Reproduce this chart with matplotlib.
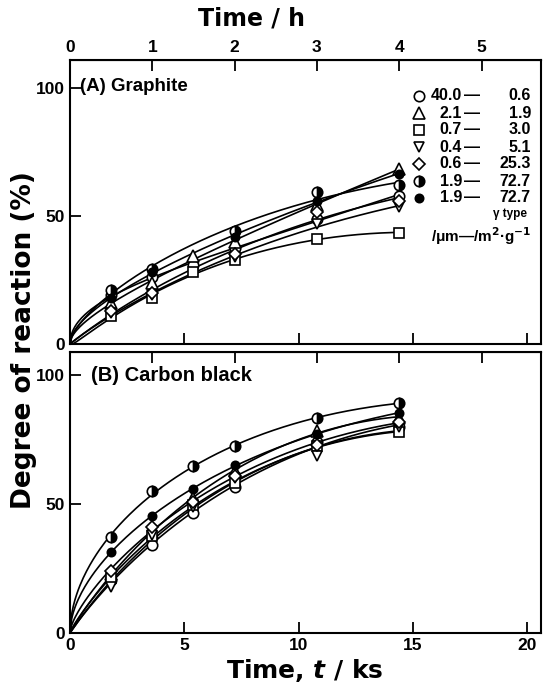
import numpy as np
import matplotlib
matplotlib.use('Agg')
import matplotlib.pyplot as plt


# Sampling times (h) and the same in ks
time_h = [0.5, 1.0, 1.5, 2.0, 3.0, 4.0]
time_ks = [t * 3.6 for t in time_h]

series_names = ['circle', 'triangle', 'square', 'invtri', 'diamond', 'half', 'filled']
size_a = ['40.0', '2.1', '0.7', '0.4', '0.6', '1.9', '1.9']
size_b = ['0.6', '1.9', '3.0', '5.1', '25.3', '72.7', '72.7']

# (A) Graphite, degree of reaction (%)
graphite = {
    'circle':   [19, 26, 31, 37.5, 49, 58],
    'triangle': [16, 24, 34.5, 40, 54.5, 68.5],
    'square':   [11, 18, 28, 33, 41, 43.5],
    'invtri':   [12, 19, np.nan, 34, 47, 53.5],
    'diamond':  [13, 20, np.nan, 35, 51.5, 56],
    'half':     [21, 29.5, np.nan, 44, 59.5, 62],
    'filled':   [18, 28, np.nan, 42, 56, 66.5],
}

# (B) Carbon black, degree of reaction (%)
carbon = {
    'circle':   [20.5, 34, 46.7, 56.5, 74, 80],
    'triangle': [23, 39, 52.5, 62.7, 78.5, 83.5],
    'square':   [21.5, 37.5, 49.5, 58, 72.5, 78],
    'invtri':   [18, 38, 49, 60, 68.5, 80],
    'diamond':  [24, 41, 51, 61, 73, 82],
    'half':     [37.4, 55, 64.6, 72.4, 83.3, 89.3],
    'filled':   [31.5, 45.5, 55.8, 65.3, 77, 85.5],
}

styles = {
    'circle':   dict(marker='o', ms=7.5, mfc='white'),
    'triangle': dict(marker='^', ms=8, mfc='white'),
    'square':   dict(marker='s', ms=7, mfc='white'),
    'invtri':   dict(marker='v', ms=7, mfc='white'),
    'diamond':  dict(marker='D', ms=6, mfc='white'),
    'half':     dict(marker='o', ms=7.5, mfc='black', fillstyle='right', markerfacecoloralt='white'),
    'filled':   dict(marker='o', ms=6, mfc='black'),
}

plt.rcParams['font.family'] = ['Liberation Sans', 'DejaVu Sans']
plt.rcParams['font.weight'] = 'bold'
plt.rcParams['mathtext.fontset'] = 'custom'
plt.rcParams['mathtext.it'] = 'DejaVu Sans:italic:bold'
plt.rcParams['mathtext.rm'] = 'DejaVu Sans:bold'


# smooth curve through origin: y = a*sqrt(t) + b*t + c*t^1.5
def smooth_curve(x, y):
    x = np.asarray(x, float)
    y = np.asarray(y, float)
    ok = ~np.isnan(y)
    x, y = x[ok], y[ok]
    A = np.column_stack([np.sqrt(x), x, x ** 1.5])
    coef = np.linalg.lstsq(A, y, rcond=None)[0]
    xs = np.linspace(0, x.max(), 200)
    return xs, np.column_stack([np.sqrt(xs), xs, xs ** 1.5]) @ coef


def style_axis(ax, ymax, label_bottom):
    ax.set_xlim(0, 20.6)
    ax.set_ylim(0, ymax)
    ax.set_xticks([0, 5, 10, 15, 20])
    ax.set_yticks([0, 50, 100])
    ax.tick_params(axis='both', direction='in', length=8, width=1.3,
                   labelsize=12.5, top=False, right=False)
    ax.tick_params(axis='x', labelbottom=label_bottom)
    for s in ax.spines.values():
        s.set_linewidth(1.5)
    top = ax.secondary_xaxis('top', functions=(lambda x: x / 3.6, lambda h: h * 3.6))
    top.set_xticks([0, 1, 2, 3, 4, 5])
    top.tick_params(direction='in', length=8, width=1.3, labelsize=12.5)
    return top


fig = plt.figure(figsize=(5.48, 6.84), dpi=100)
ax_a = fig.add_axes([70 / 548, 1 - 344 / 684, 471 / 548, 284 / 684])
ax_b = fig.add_axes([70 / 548, 1 - 633 / 684, 471 / 548, 281 / 684])

for ax, data in [(ax_a, graphite), (ax_b, carbon)]:
    for name in series_names:
        xs, ys = smooth_curve(time_ks, data[name])
        ax.plot(xs, ys, color='black', lw=1.2, zorder=2)
    for name in series_names:
        ax.plot(time_ks, data[name], ls='none', mec='black', mew=1.2,
                color='black', zorder=3, **styles[name])

top_a = style_axis(ax_a, 111, False)
top_b = style_axis(ax_b, 109, True)
top_b.tick_params(labeltop=False)

ax_a.text(0.022, 0.905, '(A) Graphite', transform=ax_a.transAxes, fontsize=13.5,
          fontweight='bold', va='center')
ax_b.text(0.045, 0.915, '(B) Carbon black', transform=ax_b.transAxes, fontsize=14.5,
          fontweight='bold', va='center')

# hand-made legend in panel A
row_y = [96, 113, 130, 147, 164, 181, 198]
for name, sa, sb, py in zip(series_names, size_a, size_b, row_y):
    yf = (344 - py) / 284
    ax_a.plot([(419 - 70) / 471], [yf], transform=ax_a.transAxes, ls='none',
              mec='black', mew=1.2, color='black', clip_on=False, **styles[name])
    ax_a.text((462 - 70) / 471, yf, sa, transform=ax_a.transAxes, ha='right',
              va='center', fontsize=11.5)
    ax_a.text((464 - 70) / 471, yf, '\u2014', transform=ax_a.transAxes, ha='left',
              va='center', fontsize=11.5)
    ax_a.text((531 - 70) / 471, yf, sb, transform=ax_a.transAxes, ha='right',
              va='center', fontsize=11.5)
ax_a.text((527 - 70) / 471, (344 - 214) / 284, '\u03b3 type', transform=ax_a.transAxes,
          ha='right', va='center', fontsize=8.5)
ax_a.text((531 - 70) / 471, (344 - 236) / 284, '/\u03bcm\u2014/m$^{2}$\u00b7g$^{-1}$',
          transform=ax_a.transAxes, ha='right', va='center', fontsize=11)

fig.text(252 / 548, 1 - 18 / 684, 'Time / h', ha='center', va='center', fontsize=17,
         family='DejaVu Sans')
fig.text(305 / 548, 1 - 671 / 684, 'Time, $t$ / ks', ha='center', va='center', fontsize=18,
         family='DejaVu Sans')
fig.text(24 / 548, 1 - 340 / 684, 'Degree of reaction (%)', ha='center', va='center',
         rotation=90, fontsize=19, family='DejaVu Sans')

fig.savefig('out.png', dpi=100)
